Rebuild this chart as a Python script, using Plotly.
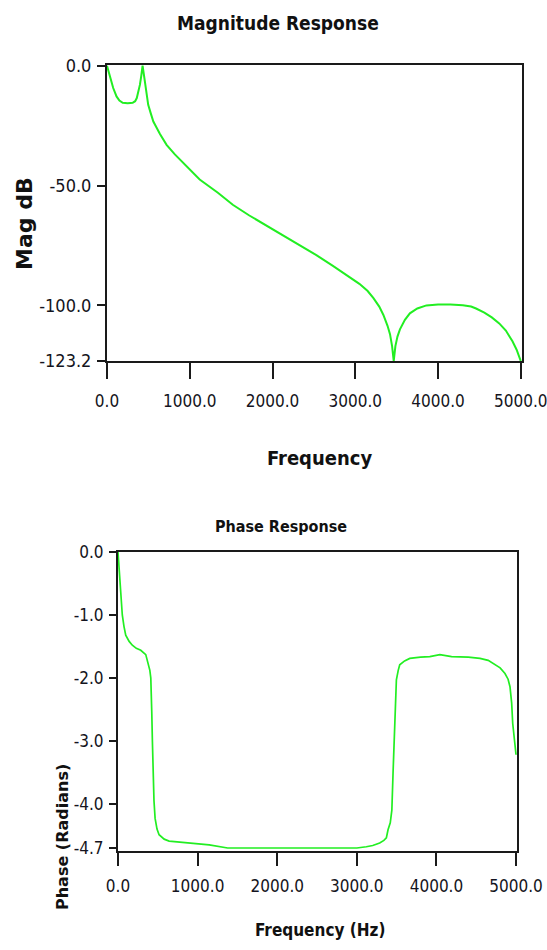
import plotly.graph_objects as go

# ---------------- data ----------------
mag_freq = [0, 25, 50, 75, 115, 150, 190, 250, 310, 340, 360, 380, 398, 415, 430,
            445, 458, 478, 498, 530, 560, 640, 720, 820, 920, 1020, 1120, 1340, 1520,
            1720, 1920, 2120, 2330, 2530, 2730, 2900, 3050, 3150, 3220, 3290, 3340,
            3390, 3420, 3445, 3465, 3485, 3510, 3540, 3600, 3660, 3750, 3860, 4000,
            4150, 4300, 4400, 4460, 4560, 4650, 4740, 4820, 4900, 4950, 5000]
mag_db = [0, -3, -6.5, -9.3, -12.8, -14.5, -15.5, -15.7, -15.5, -14.8, -13.5, -11, -7.9,
          -4, 0, -3.5, -6.5, -11.5, -16.3, -20, -23.3, -28.5, -33, -37, -40.5, -44, -47.5,
          -53, -58, -62.5, -66.5, -70.5, -75, -79, -83.5, -87.5, -91, -94, -97, -100.5,
          -104, -108.5, -112, -117, -123.2, -117, -113, -110, -106, -103.3, -101.3, -100,
          -99.6, -99.6, -99.9, -100.5, -101.3, -103, -105, -107.5, -110.5, -115, -118.5,
          -123.2]

ph_freq = [0, 13, 34, 54, 75, 97, 140, 180, 230, 286, 349, 382, 400, 412, 420, 424, 432,
           441, 452, 466, 490, 516, 580, 642, 810, 1146, 1377, 1600, 2000, 2500, 3000,
           3119, 3200, 3287, 3340, 3371, 3392, 3420, 3440, 3455, 3465, 3476, 3487, 3497,
           3520, 3539, 3600, 3665, 3800, 3917, 4043, 4190, 4400, 4547, 4650, 4714, 4800,
           4861, 4900, 4924, 4945, 4958, 4975, 4987, 5000]
ph_rad = [0, -0.21, -0.68, -1.0, -1.18, -1.32, -1.42, -1.48, -1.53, -1.56, -1.63, -1.77,
          -1.88, -2.0, -2.2, -2.53, -3.0, -3.59, -3.95, -4.23, -4.4, -4.49, -4.56, -4.59,
          -4.61, -4.65, -4.70, -4.70, -4.70, -4.70, -4.70, -4.68, -4.66, -4.62, -4.58,
          -4.54, -4.41, -4.3, -4.1, -3.51, -3.2, -2.72, -2.3, -2.03, -1.88, -1.79, -1.73,
          -1.69, -1.67, -1.66, -1.63, -1.66, -1.67, -1.69, -1.72, -1.77, -1.84, -1.93,
          -2.02, -2.14, -2.4, -2.72, -2.95, -3.17, -3.22]

freq_ticks = [0, 1000, 2000, 3000, 4000, 5000]
freq_ticktext = ["0.0", "1000.0", "2000.0", "3000.0", "4000.0", "5000.0"]
mag_ticks = [0, -50, -100, -123.2]
mag_ticktext = ["0.0", "-50.0", "-100.0", "-123.2"]
ph_ticks = [0, -1, -2, -3, -4, -4.7]
ph_ticktext = ["0.0", "-1.0", "-2.0", "-3.0", "-4.0", "-4.7"]

# ---------------- layout helpers ----------------
W, H = 547, 950
def px_x(p): return p / W
def px_y(p): return 1 - p / H

NARROW = "DejaVu Sans Condensed, Liberation Sans, sans-serif"
WIDE_BOLD = "DejaVu Sans, Verdana, sans-serif"
GREEN = "#22ee22"
FRAME = "#1a1a1a"
TICKC = "#141420"

fig = go.Figure()
fig.add_trace(go.Scatter(x=mag_freq, y=mag_db, mode="lines",
                         line=dict(color=GREEN, width=2), xaxis="x", yaxis="y",
                         showlegend=False, hoverinfo="skip"))
fig.add_trace(go.Scatter(x=ph_freq, y=ph_rad, mode="lines",
                         line=dict(color=GREEN, width=1.7), xaxis="x2", yaxis="y2",
                         showlegend=False, hoverinfo="skip"))

axis_common = dict(showgrid=False, zeroline=False, showline=True, linecolor=FRAME,
                   linewidth=2, mirror=True, ticks="outside", tickcolor=FRAME,
                   tickwidth=2, tickmode="array", automargin=False,
                   ticklabeloverflow="allow")

fig.update_layout(
    width=W, height=H, margin=dict(l=0, r=0, t=0, b=0, autoexpand=False),
    paper_bgcolor="white", plot_bgcolor="white",
    xaxis=dict(**axis_common, domain=[px_x(107), px_x(522)], range=[0, 5015],
               tickvals=freq_ticks, ticktext=freq_ticktext, ticklen=16,
               ticklabelstandoff=8, anchor="y",
               tickfont=dict(family=NARROW, size=17, color=TICKC)),
    yaxis=dict(**axis_common, domain=[px_y(361), px_y(65)], range=[-123.2, 0.3],
               tickvals=mag_ticks, ticktext=mag_ticktext, ticklen=8,
               ticklabelstandoff=2, anchor="x",
               tickfont=dict(family=NARROW, size=18, color=TICKC)),
    xaxis2=dict(**axis_common, domain=[px_x(118), px_x(517)], range=[0, 5012],
                tickvals=freq_ticks, ticktext=freq_ticktext, ticklen=13,
                ticklabelstandoff=6, anchor="y2",
                tickfont=dict(family=NARROW, size=17, color=TICKC)),
    yaxis2=dict(**axis_common, domain=[px_y(851), px_y(552)], range=[-4.748, 0.0],
                tickvals=ph_ticks, ticktext=ph_ticktext, ticklen=7,
                ticklabelstandoff=2, anchor="x2",
                tickfont=dict(family=NARROW, size=17, color=TICKC)),
)

annotations = [
    dict(text="<b>Magnitude Response</b>", x=px_x(278), y=px_y(23),
         font=dict(family=NARROW, size=19, color="#111")),
    dict(text="<b>Frequency</b>", x=px_x(319), y=px_y(458),
         font=dict(family=NARROW, size=20, color="#111")),
    dict(text="<b>Mag dB</b>", x=px_x(24), y=px_y(224), textangle=-90,
         font=dict(family=WIDE_BOLD, size=22, color="#111")),
    dict(text="<b>Phase Response</b>", x=px_x(281), y=px_y(526),
         font=dict(family=NARROW, size=16, color="#111")),
    dict(text="<b>Frequency (Hz)</b>", x=px_x(320), y=px_y(930),
         font=dict(family=NARROW, size=17, color="#111")),
    dict(text="<b>Phase (Radians)</b>", x=px_x(62), y=px_y(837), textangle=-90,
         font=dict(family=WIDE_BOLD, size=16, color="#111")),
]
for a in annotations:
    a.update(xref="paper", yref="paper", showarrow=False, xanchor="center",
             yanchor="middle")
fig.update_layout(annotations=annotations)

fig.write_html("out.html")
